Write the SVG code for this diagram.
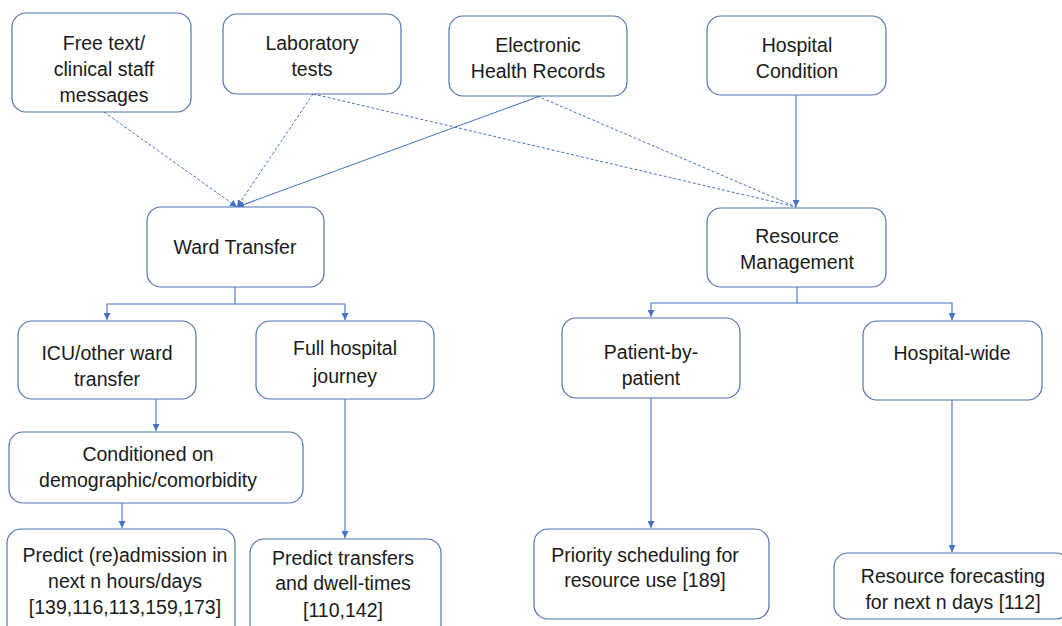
<svg xmlns="http://www.w3.org/2000/svg" width="1062" height="626" viewBox="0 0 1062 626">
  <style>
    .box { fill: #ffffff; stroke: #4f73b0; stroke-width: 1.2; }
    .lbl { font-family: "Liberation Sans", Arial, sans-serif; font-size: 19.5px; fill: #1a1a1a; text-anchor: middle; }
    .link { fill: none; stroke: #4472c4; stroke-width: 1.1; }
    .dash { fill: none; stroke: #4472c4; stroke-width: 1; stroke-dasharray: 3 2; }
  </style>
  <defs>
    <marker id="arrow" viewBox="0 0 10 10" refX="10" refY="5" markerWidth="7" markerHeight="7" markerUnits="userSpaceOnUse" orient="auto">
      <path d="M0,0 L10,5 L0,10 z" fill="#4472c4"/>
    </marker>
  </defs>
  <rect width="1062" height="626" fill="#ffffff"/>

  <!-- connectors -->
  <g id="connectors">
    <line class="dash" x1="104" y1="112" x2="237" y2="207" marker-end="url(#arrow)"/>
    <line class="dash" x1="313" y1="94" x2="237" y2="207" marker-end="url(#arrow)"/>
    <line class="link" x1="540" y1="96" x2="237" y2="207" marker-end="url(#arrow)"/>
    <line class="dash" x1="313" y1="94" x2="796" y2="207"/>
    <line class="dash" x1="537" y1="96" x2="796" y2="207"/>
    <line class="link" x1="796" y1="95" x2="796" y2="207" marker-end="url(#arrow)"/>

    <polyline class="link" points="235,287 235,304 107,304 107,320" marker-end="url(#arrow)"/>
    <polyline class="link" points="235,304 345,304 345,320" marker-end="url(#arrow)"/>
    <line class="link" x1="156" y1="399" x2="156" y2="431" marker-end="url(#arrow)"/>
    <line class="link" x1="122" y1="503" x2="122" y2="528" marker-end="url(#arrow)"/>
    <line class="link" x1="345" y1="399" x2="345" y2="538" marker-end="url(#arrow)"/>

    <polyline class="link" points="797,287 797,303 651,303 651,317" marker-end="url(#arrow)"/>
    <polyline class="link" points="797,303 952,303 952,320" marker-end="url(#arrow)"/>
    <line class="link" x1="651" y1="398" x2="651" y2="528" marker-end="url(#arrow)"/>
    <line class="link" x1="952" y1="400" x2="952" y2="552" marker-end="url(#arrow)"/>
  </g>

  <!-- data sources -->
  <g id="free-text">
    <rect class="box" x="12" y="13" width="179" height="99" rx="14"/>
    <text class="lbl" x="104" y="50">Free text/</text>
    <text class="lbl" x="104" y="76">clinical staff</text>
    <text class="lbl" x="104" y="102">messages</text>
  </g>
  <g id="lab-tests">
    <rect class="box" x="223" y="14" width="178" height="80" rx="14"/>
    <text class="lbl" x="312" y="50">Laboratory</text>
    <text class="lbl" x="312" y="76">tests</text>
  </g>
  <g id="ehr">
    <rect class="box" x="449" y="16" width="178" height="80" rx="14"/>
    <text class="lbl" x="538" y="52">Electronic</text>
    <text class="lbl" x="538" y="78">Health Records</text>
  </g>
  <g id="hospital-condition">
    <rect class="box" x="707" y="16" width="179" height="79" rx="14"/>
    <text class="lbl" x="797" y="52">Hospital</text>
    <text class="lbl" x="797" y="78">Condition</text>
  </g>

  <!-- task categories -->
  <g id="ward-transfer">
    <rect class="box" x="147" y="207" width="177" height="80" rx="14"/>
    <text class="lbl" x="235" y="254">Ward Transfer</text>
  </g>
  <g id="resource-management">
    <rect class="box" x="707" y="208" width="179" height="79" rx="14"/>
    <text class="lbl" x="797" y="243">Resource</text>
    <text class="lbl" x="797" y="269">Management</text>
  </g>

  <!-- ward transfer branch -->
  <g id="icu-transfer">
    <rect class="box" x="18" y="321" width="178" height="78" rx="14"/>
    <text class="lbl" x="107" y="360">ICU/other ward</text>
    <text class="lbl" x="107" y="386">transfer</text>
  </g>
  <g id="full-journey">
    <rect class="box" x="256" y="321" width="178" height="78" rx="14"/>
    <text class="lbl" x="345" y="355">Full hospital</text>
    <text class="lbl" x="345" y="383">journey</text>
  </g>
  <g id="conditioned">
    <rect class="box" x="9" y="432" width="294" height="71" rx="14"/>
    <text class="lbl" x="148" y="461">Conditioned on</text>
    <text class="lbl" x="148" y="487">demographic/comorbidity</text>
  </g>
  <g id="predict-admission">
    <rect class="box" x="7" y="529" width="228" height="110" rx="14"/>
    <text class="lbl" x="125" y="562">Predict (re)admission in</text>
    <text class="lbl" x="125" y="588">next n hours/days</text>
    <text class="lbl" x="125" y="614">[139,116,113,159,173]</text>
  </g>
  <g id="predict-transfers">
    <rect class="box" x="250" y="539" width="191" height="100" rx="14"/>
    <text class="lbl" x="343" y="565">Predict transfers</text>
    <text class="lbl" x="343" y="590">and dwell-times</text>
    <text class="lbl" x="343" y="617">[110,142]</text>
  </g>

  <!-- resource management branch -->
  <g id="patient-by-patient">
    <rect class="box" x="562" y="318" width="178" height="80" rx="14"/>
    <text class="lbl" x="651" y="359">Patient-by-</text>
    <text class="lbl" x="651" y="385">patient</text>
  </g>
  <g id="hospital-wide">
    <rect class="box" x="863" y="321" width="179" height="79" rx="14"/>
    <text class="lbl" x="952" y="360">Hospital-wide</text>
  </g>
  <g id="priority-scheduling">
    <rect class="box" x="534" y="529" width="235" height="90" rx="14"/>
    <text class="lbl" x="645" y="562">Priority scheduling for</text>
    <text class="lbl" x="645" y="587">resource use [189]</text>
  </g>
  <g id="resource-forecasting">
    <rect class="box" x="834" y="553" width="236" height="66" rx="14"/>
    <text class="lbl" x="953" y="583">Resource forecasting</text>
    <text class="lbl" x="953" y="609">for next n days [112]</text>
  </g>
</svg>
